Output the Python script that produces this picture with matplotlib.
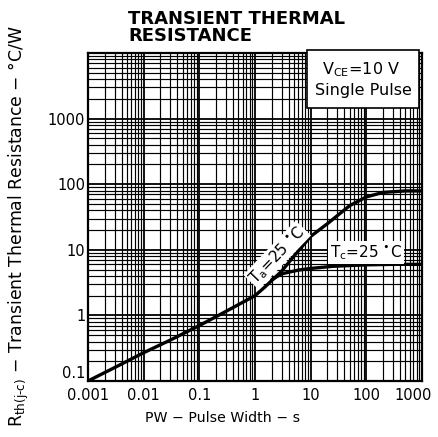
import matplotlib
matplotlib.use("Agg")
import matplotlib.pyplot as plt
from matplotlib.patches import Rectangle
from matplotlib.transforms import ScaledTranslation
from matplotlib.ticker import LogLocator, NullFormatter, FixedLocator, FixedFormatter

# ---- data ----
ta_pw = [0.001, 0.003, 0.01, 0.03, 0.1, 0.3, 1, 1.5, 2, 3, 5, 10, 20, 50, 100, 200, 500, 1000]
ta_r = [0.1, 0.16, 0.27, 0.42, 0.7, 1.15, 2.0, 2.7, 3.4, 4.7, 8.0, 16, 25, 47, 64, 75, 79, 79]

tc_pw = [2.0, 3.0, 6.0, 10, 25, 100, 300, 1000]
tc_r = [3.5, 4.3, 4.9, 5.2, 5.6, 5.9, 6.0, 6.0]

x_ticks = [0.001, 0.01, 0.1, 1, 10, 100, 1000]
x_tick_labels = ["0.001", "0.01", "0.1", "1", "10", "100", "1000"]
y_ticks = [0.1, 1, 10, 100, 1000]
y_tick_labels = ["0.1", "1", "10", "100", "1000"]

W, H = 438, 437
fig = plt.figure(figsize=(W / 100, H / 100), dpi=100)
L, R, T, B = 88, 422, 53, 381
ax = fig.add_axes([L / W, 1 - B / H, (R - L) / W, (B - T) / H])
ax.set_xscale("log")
ax.set_yscale("log")
ax.set_xlim(0.001, 1000)
ax.set_ylim(0.1, 10000)

ax.xaxis.set_major_locator(FixedLocator(x_ticks))
ax.xaxis.set_major_formatter(FixedFormatter(x_tick_labels))
ax.yaxis.set_major_locator(FixedLocator(y_ticks))
ax.yaxis.set_major_formatter(FixedFormatter(y_tick_labels))
ax.xaxis.set_minor_locator(LogLocator(base=10, subs=range(2, 10), numticks=20))
ax.yaxis.set_minor_locator(LogLocator(base=10, subs=range(2, 10), numticks=20))
ax.xaxis.set_minor_formatter(NullFormatter())
ax.yaxis.set_minor_formatter(NullFormatter())

ax.grid(True, which="major", color="black", linewidth=1.3)
ax.grid(True, which="minor", color="black", linewidth=0.85)
ax.set_axisbelow(True)
ax.tick_params(which="both", length=0, labelsize=10.5)
ax.tick_params(axis="x", pad=5)
ax.tick_params(axis="y", pad=2)
for s in ax.spines.values():
    s.set_linewidth(1.6)
    s.set_color("black")

ax.plot(ta_pw, ta_r, color="black", linewidth=2.4, zorder=4, solid_capstyle="round")
ax.plot(tc_pw, tc_r, color="black", linewidth=2.4, zorder=4, solid_capstyle="round")

# curve labels
ax.text(2.5, 8.3, r"T$_{\mathrm{a}}$=25 $^{\bullet}$C", rotation=46, fontsize=11,
        ha="center", va="center", zorder=5,
        bbox=dict(facecolor="white", edgecolor="none", pad=1.0))
ax.text(100, 9.0, r"T$_{\mathrm{c}}$=25 $^{\bullet}$C", fontsize=11,
        ha="center", va="center", zorder=5,
        bbox=dict(facecolor="white", edgecolor="none", pad=1.5))

# condition box
x0 = (307 - L) / (R - L)
x1 = (419 - L) / (R - L)
y1 = (B - 50) / (B - T)
y0 = (B - 108) / (B - T)
ax.add_patch(Rectangle((x0, y0), x1 - x0, y1 - y0, transform=ax.transAxes,
                       facecolor="white", edgecolor="black", linewidth=1.2,
                       zorder=6, clip_on=False))
fig.text(361 / W, 1 - 70 / H, r"V$_{\mathrm{CE}}$=10 V", fontsize=11.5,
         ha="center", va="center", zorder=7)
fig.text(363 / W, 1 - 91 / H, "Single Pulse", fontsize=11.5,
         ha="center", va="center", zorder=7)

# title and axis labels
fig.text(128 / W, 1 - 10 / H, "TRANSIENT THERMAL\nRESISTANCE", fontsize=13,
         fontweight="bold", ha="left", va="top", linespacing=0.95)
fig.text(19 / W, 1 - 226 / H,
         r"R$_{\mathrm{th(j‐c)}}$ − Transient Thermal Resistance − °C/W",
         rotation=90, fontsize=12.4, ha="center", va="center")
fig.text(223 / W, 1 - 418 / H, "PW − Pulse Width − s", fontsize=10.2,
         ha="center", va="center")

# tick label nudges (as in the reference)
fig.canvas.draw()
for lab in ax.get_yticklabels():
    if lab.get_text() == "0.1":
        lab.set_va("bottom")
for lab in ax.get_xticklabels():
    if lab.get_text() == "1000":
        lab.set_transform(lab.get_transform() + ScaledTranslation(-9 / 100, 0, fig.dpi_scale_trans))

fig.savefig("out.png", dpi=100, facecolor="white")
